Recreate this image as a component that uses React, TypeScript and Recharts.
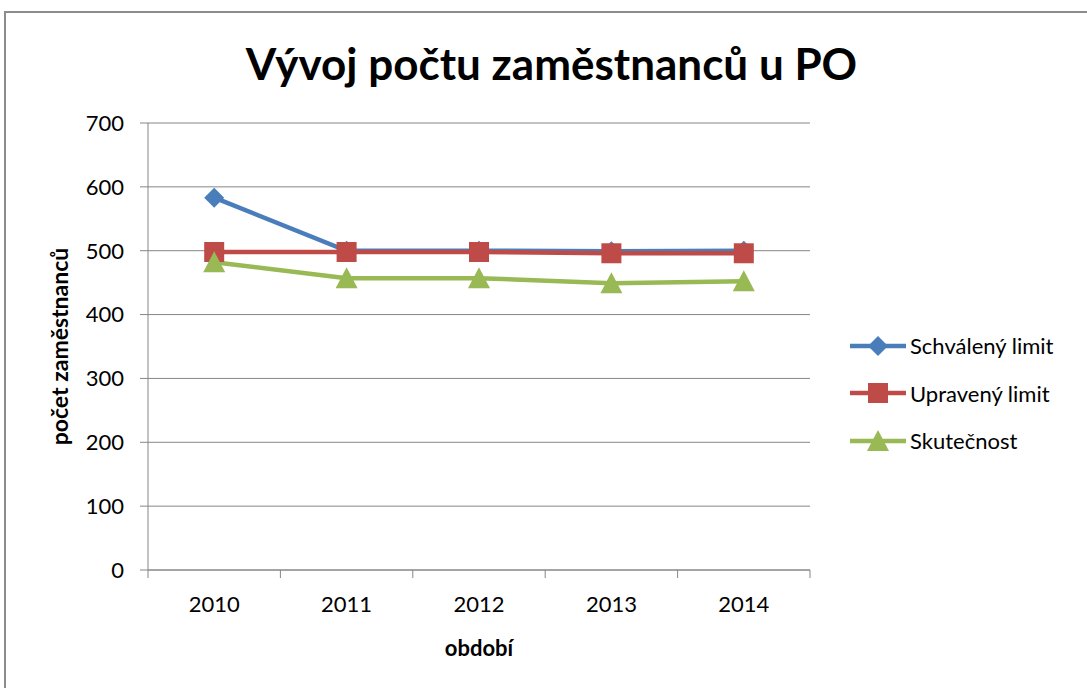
import { LineChart, Line, XAxis, YAxis, CartesianGrid } from 'recharts';

const years = ['2010', '2011', '2012', '2013', '2014'];
const schvaleny = [583, 500, 500, 499, 500];
const upraveny = [498, 498, 498, 496, 496];
const skutecnost = [482, 457, 457, 449, 452];
const yTicks = [0, 100, 200, 300, 400, 500, 600, 700];

const series = [
    { key: 'schvaleny', name: 'Schválený limit', color: '#4A7EBB', shape: 'diamond' },
    { key: 'upraveny', name: 'Upravený limit', color: '#BE4B48', shape: 'square' },
    { key: 'skutecnost', name: 'Skutečnost', color: '#98B954', shape: 'triangle' },
];

const data = years.map((year, i) => ({
    year,
    schvaleny: schvaleny[i],
    upraveny: upraveny[i],
    skutecnost: skutecnost[i],
}));

const FONT = 'Lato, "Open Sans", sans-serif';
const GRID = '#868686';

// plot area
const PLOT_LEFT = 148;
const PLOT_RIGHT = 810;
const PLOT_TOP = 123;
const PLOT_BOTTOM = 570;
const BAND = (PLOT_RIGHT - PLOT_LEFT) / years.length;

function marker(shape: string, color: string, cx: number, cy: number, key?: string | number) {
    if (shape === 'diamond') {
        const r = 10;
        return (
            <path key={key} d={`M${cx},${cy - r} L${cx + r},${cy} L${cx},${cy + r} L${cx - r},${cy} Z`} fill={color} />
        );
    }
    if (shape === 'square') {
        const s = 10;
        return <rect key={key} x={cx - s} y={cy - s} width={s * 2} height={s * 2} fill={color} />;
    }
    return (
        <path key={key} d={`M${cx},${cy - 11} L${cx + 11},${cy + 10} L${cx - 11},${cy + 10} Z`} fill={color} />
    );
}

function XTick(props: any) {
    const { x, payload, index } = props;
    const left = x - BAND / 2;
    return (
        <g>
            <line x1={left} y1={PLOT_BOTTOM} x2={left} y2={PLOT_BOTTOM + 8} stroke={GRID} />
            {index === years.length - 1 && (
                <line x1={x + BAND / 2} y1={PLOT_BOTTOM} x2={x + BAND / 2} y2={PLOT_BOTTOM + 8} stroke={GRID} />
            )}
            <text x={x} y={PLOT_BOTTOM + 42} textAnchor="middle" fontSize={22} fill="#000" fontFamily={FONT}>
                {payload.value}
            </text>
        </g>
    );
}

function LegendBox() {
    return (
        <div style={{ position: 'absolute', left: 848, top: 322, fontFamily: FONT, fontSize: 22, color: '#000' }}>
            {series.map((s) => (
                <div key={s.key} style={{ display: 'flex', alignItems: 'center', height: 47.5 }}>
                    <svg width={60} height={26}>
                        <line x1={2} y1={13} x2={58} y2={13} stroke={s.color} strokeWidth={4.5} />
                        {marker(s.shape, s.color, 30, 13)}
                    </svg>
                    <span style={{ marginLeft: 2 }}>{s.name}</span>
                </div>
            ))}
        </div>
    );
}

export default function App() {
    return (
        <div style={{ position: 'fixed', left: 0, top: 0, width: 1087, height: 688, background: '#fff', overflow: 'hidden' }}>
            <div
                style={{
                    position: 'absolute',
                    left: 4,
                    top: 11,
                    width: 1100,
                    height: 700,
                    border: '2px solid #8c8c8c',
                }}
            />
            <div
                style={{
                    position: 'absolute',
                    left: 8,
                    top: 37,
                    width: 1087,
                    textAlign: 'center',
                    fontFamily: FONT,
                    fontWeight: 700,
                    fontSize: 44,
                    color: '#000',
                }}
            >
                Vývoj počtu zaměstnanců u PO
            </div>
            <div style={{ position: 'absolute', left: 0, top: 0 }}>
                <LineChart
                    width={1087}
                    height={688}
                    data={data}
                    margin={{ top: PLOT_TOP, left: PLOT_LEFT - 90, right: 1087 - PLOT_RIGHT, bottom: 688 - PLOT_BOTTOM - 30 }}
                >
                    <CartesianGrid vertical={false} stroke={GRID} strokeWidth={1} />
                    <XAxis
                        dataKey="year"
                        height={30}
                        padding={{ left: BAND / 2, right: BAND / 2 }}
                        axisLine={{ stroke: GRID }}
                        tickLine={false}
                        tick={<XTick />}
                        interval={0}
                        label={{
                            value: 'období',
                            position: 'bottom',
                            offset: 40,
                            style: { fontFamily: FONT, fontWeight: 700, fontSize: 22, fill: '#000' },
                        }}
                    />
                    <YAxis
                        width={90}
                        domain={[0, 700]}
                        ticks={yTicks}
                        interval={0}
                        axisLine={{ stroke: GRID }}
                        tickLine={{ stroke: GRID }}
                        tickSize={8}
                        tickMargin={16}
                        tick={{ fontSize: 22, fill: '#000', fontFamily: FONT }}
                        label={{
                            value: 'počet zaměstnanců',
                            angle: -90,
                            position: 'insideLeft',
                            offset: 2,
                            style: { fontFamily: FONT, fontWeight: 700, fontSize: 23, fill: '#000', textAnchor: 'middle' },
                        }}
                    />
                    {series.map((s) => (
                        <Line
                            key={s.key}
                            dataKey={s.key}
                            name={s.name}
                            stroke={s.color}
                            strokeWidth={4.5}
                            isAnimationActive={false}
                            dot={(p: any) => marker(s.shape, s.color, p.cx, p.cy, p.index)}
                            activeDot={false}
                        />
                    ))}
                </LineChart>
            </div>
            <LegendBox />
        </div>
    );
}
